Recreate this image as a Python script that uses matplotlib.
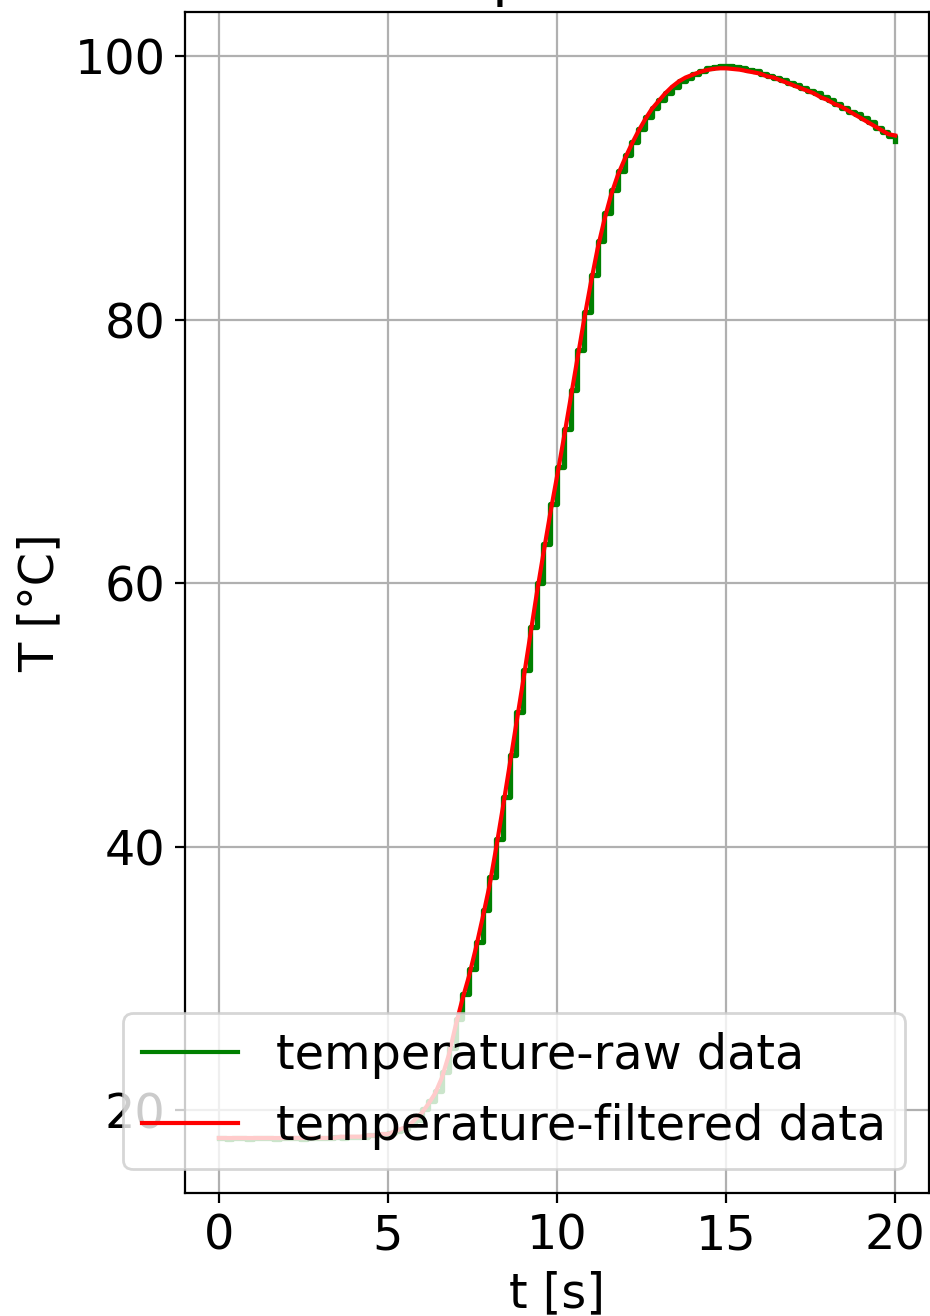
import numpy as np
import matplotlib
matplotlib.use("Agg")
import matplotlib.pyplot as plt
from matplotlib.ticker import MultipleLocator

plt.rcParams['font.size'] = 17.2

# sample times [s], one sample every 0.2 s
t = np.linspace(0, 20, 101)

# raw sensor readings [degC]
temp_raw = [
    17.9, 17.8, 17.9, 17.9, 17.8, 17.9, 17.9, 17.9, 17.8, 17.9,
    17.9, 17.9, 17.8, 17.9, 17.9, 17.9, 17.9, 18.0, 17.9, 18.0,
    18.0, 18.0, 18.1, 18.1, 18.2, 18.3, 18.4, 18.6, 18.9, 19.3,
    20.1, 20.7, 21.5, 22.9, 24.7, 26.9, 28.8, 30.7, 32.8, 35.2,
    37.7, 40.6, 43.8, 47.0, 50.2, 53.4, 56.7, 60.0, 63.0, 66.0,
    68.8, 71.7, 74.7, 77.7, 80.6, 83.4, 86.0, 88.1, 89.9, 91.3,
    92.5, 93.5, 94.5, 95.4, 96.1, 96.7, 97.2, 97.7, 98.1, 98.4,
    98.7, 98.9, 99.1, 99.2, 99.3, 99.3, 99.2, 99.1, 99.0, 98.9,
    98.7, 98.5, 98.4, 98.2, 98.0, 97.8, 97.6, 97.4, 97.2, 96.9,
    96.7, 96.4, 96.1, 95.8, 95.6, 95.3, 95.0, 94.6, 94.3, 94.0,
    93.6,
]

# filtered readings [degC]
temp_filt = [
    17.9, 17.9, 17.9, 17.9, 17.9, 17.9, 17.9, 17.9, 17.9, 17.9,
    17.9, 17.9, 17.9, 17.9, 17.9, 17.9, 17.9, 17.9, 18.0, 18.0,
    18.0, 18.0, 18.1, 18.1, 18.2, 18.2, 18.4, 18.6, 18.8, 19.3,
    19.8, 20.5, 21.3, 22.5, 24.2, 26.4, 28.4, 30.2, 32.3, 34.6,
    37.0, 39.9, 43.0, 46.2, 49.4, 52.6, 55.9, 59.2, 62.3, 65.3,
    68.1, 71.0, 74.0, 77.0, 80.0, 82.8, 85.4, 87.6, 89.5, 91.0,
    92.2, 93.3, 94.3, 95.2, 96.0, 96.6, 97.2, 97.7, 98.1, 98.4,
    98.6, 98.8, 98.95, 99.05, 99.1, 99.1, 99.05, 99.0, 98.9, 98.8,
    98.7, 98.5, 98.4, 98.2, 98.0, 97.8, 97.6, 97.4, 97.2, 96.9,
    96.7, 96.4, 96.2, 95.9, 95.6, 95.3, 95.0, 94.7, 94.4, 94.1,
    94.0,
]

fig = plt.figure(figsize=(4.65, 6.58), dpi=200)
ax = fig.add_axes([185/930, 123/1316, 744/930, 1181/1316])

ax.plot(t, temp_raw, color='green', lw=1.9, drawstyle='steps-post',
        label='temperature-raw data')
ax.plot(t, temp_filt, color='red', lw=1.5, label='temperature-filtered data')

ax.xaxis.set_major_locator(MultipleLocator(5))
ax.yaxis.set_major_locator(MultipleLocator(20))

ax.set_title('Temperature')
ax.set_xlabel('t [s]')
ax.set_ylabel('T [°C]')
ax.grid(True)
leg = ax.legend(loc='lower right')
for line in leg.get_lines():
    line.set_linewidth(1.5)

fig.savefig('out.png', dpi=200)
